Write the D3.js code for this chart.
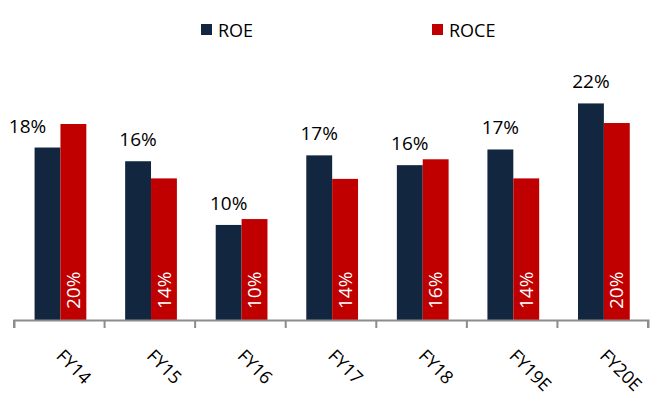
<!DOCTYPE html>
<html>
<head>
<meta charset="utf-8">
<script src="https://cdn.jsdelivr.net/npm/d3@7"></script>
<style>
  body { margin: 0; background: #fff; }
  text { font-family: "Open Sans", "Liberation Sans", sans-serif; }
</style>
</head>
<body>
<div id="chart"></div>
<script>
    const width = 665
    const height = 399

    // data (ROE / ROCE in %)
    const years = ['FY14', 'FY15', 'FY16', 'FY17', 'FY18', 'FY19E', 'FY20E']
    const series = ['ROE', 'ROCE']
    const roe = [17.6, 16.2, 9.7, 16.8, 15.8, 17.4, 22.1]
    const roce = [20.0, 14.45, 10.3, 14.4, 16.4, 14.45, 20.1]
    const colors = ['#13263f', '#c00000']

    const data = years.map((y, i) => ({ year: y, ROE: roe[i], ROCE: roce[i] }))

    const svg = d3.select('#chart')
      .append('svg')
      .attr('width', width)
      .attr('height', height)

    const x = d3.scaleBand()
      .domain(years)
      .range([14, 648])
      .padding(0)

    const xSub = d3.scaleBand()
      .domain(series)
      .range([0, x.bandwidth()])
      .paddingInner(0)
      .paddingOuter(0.75)
      .align(0.53)

    const y = d3.scaleLinear()
      .domain([0, 25])
      .range([320, 75])

    const color = d3.scaleOrdinal().domain(series).range(colors)
    const pct = v => Math.round(v) + '%'

    // bars
    const groups = svg.selectAll('g.year')
      .data(data)
      .enter().append('g')
      .attr('class', 'year')
      .attr('transform', d => `translate(${x(d.year)},0)`)

    groups.selectAll('rect')
      .data(d => series.map(s => ({ key: s, value: d[s] })))
      .enter().append('rect')
      .attr('x', d => xSub(d.key))
      .attr('y', d => y(d.value))
      .attr('width', xSub.bandwidth())
      .attr('height', d => y(0) - y(d.value))
      .attr('fill', d => color(d.key))

    // x axis
    const xAxis = d3.axisBottom(x)
      .tickSizeInner(8)
      .tickSizeOuter(8)
      .tickFormat('')

    const axisG = svg.append('g')
      .attr('transform', `translate(0,${y(0)})`)
      .call(xAxis)
    axisG.select('.domain').attr('stroke', '#8c8c8c').attr('stroke-width', 2)
    axisG.selectAll('.tick').remove()

    // ticks on band edges, like excel
    const edges = years.map(d => x(d)).concat([x.range()[1]])
    axisG.selectAll('line.edge')
      .data(edges)
      .enter().append('line')
      .attr('class', 'edge')
      .attr('x1', d => d).attr('x2', d => d)
      .attr('y1', 0).attr('y2', 8)
      .attr('stroke', '#8c8c8c')
      .attr('stroke-width', 2)

    // category labels, rotated 45deg
    svg.selectAll('text.cat')
      .data(years)
      .enter().append('text')
      .attr('class', 'cat')
      .attr('transform', d => `translate(${x(d) + x.bandwidth() / 2 - 4},357) rotate(45)`)
      .attr('font-size', 18)
      .attr('fill', '#000')
      .text(d => d)

    // ROE labels above bars
    groups.append('text')
      .attr('x', d => {
        const cx = xSub('ROE') + xSub.bandwidth() / 2
        // shift left when the ROCE bar would cover the label
        return y(d.ROCE) < y(d.ROE) - 20 ? cx - 20 : cx
      })
      .attr('y', d => y(d.ROE) - 15)
      .attr('text-anchor', 'middle')
      .attr('font-size', 19)
      .attr('fill', '#000')
      .text(d => pct(d.ROE))

    // ROCE labels inside bars, vertical
    groups.append('text')
      .attr('transform', d => `translate(${xSub('ROCE') + xSub.bandwidth() / 2},${y(0) - 11}) rotate(-90)`)
      .attr('dy', '0.35em')
      .attr('font-size', 19)
      .attr('fill', '#fff')
      .text(d => pct(d.ROCE))

    // legend
    const legendX = [201, 432]
    const legend = svg.selectAll('g.legend')
      .data(series)
      .enter().append('g')
      .attr('class', 'legend')
      .attr('transform', (d, i) => `translate(${legendX[i]},24)`)

    legend.append('rect')
      .attr('width', 11)
      .attr('height', 11)
      .attr('fill', d => color(d))

    legend.append('text')
      .attr('x', 17)
      .attr('y', 12.5)
      .attr('font-size', 18)
      .attr('fill', '#000')
      .text(d => d)
</script>
</body>
</html>
